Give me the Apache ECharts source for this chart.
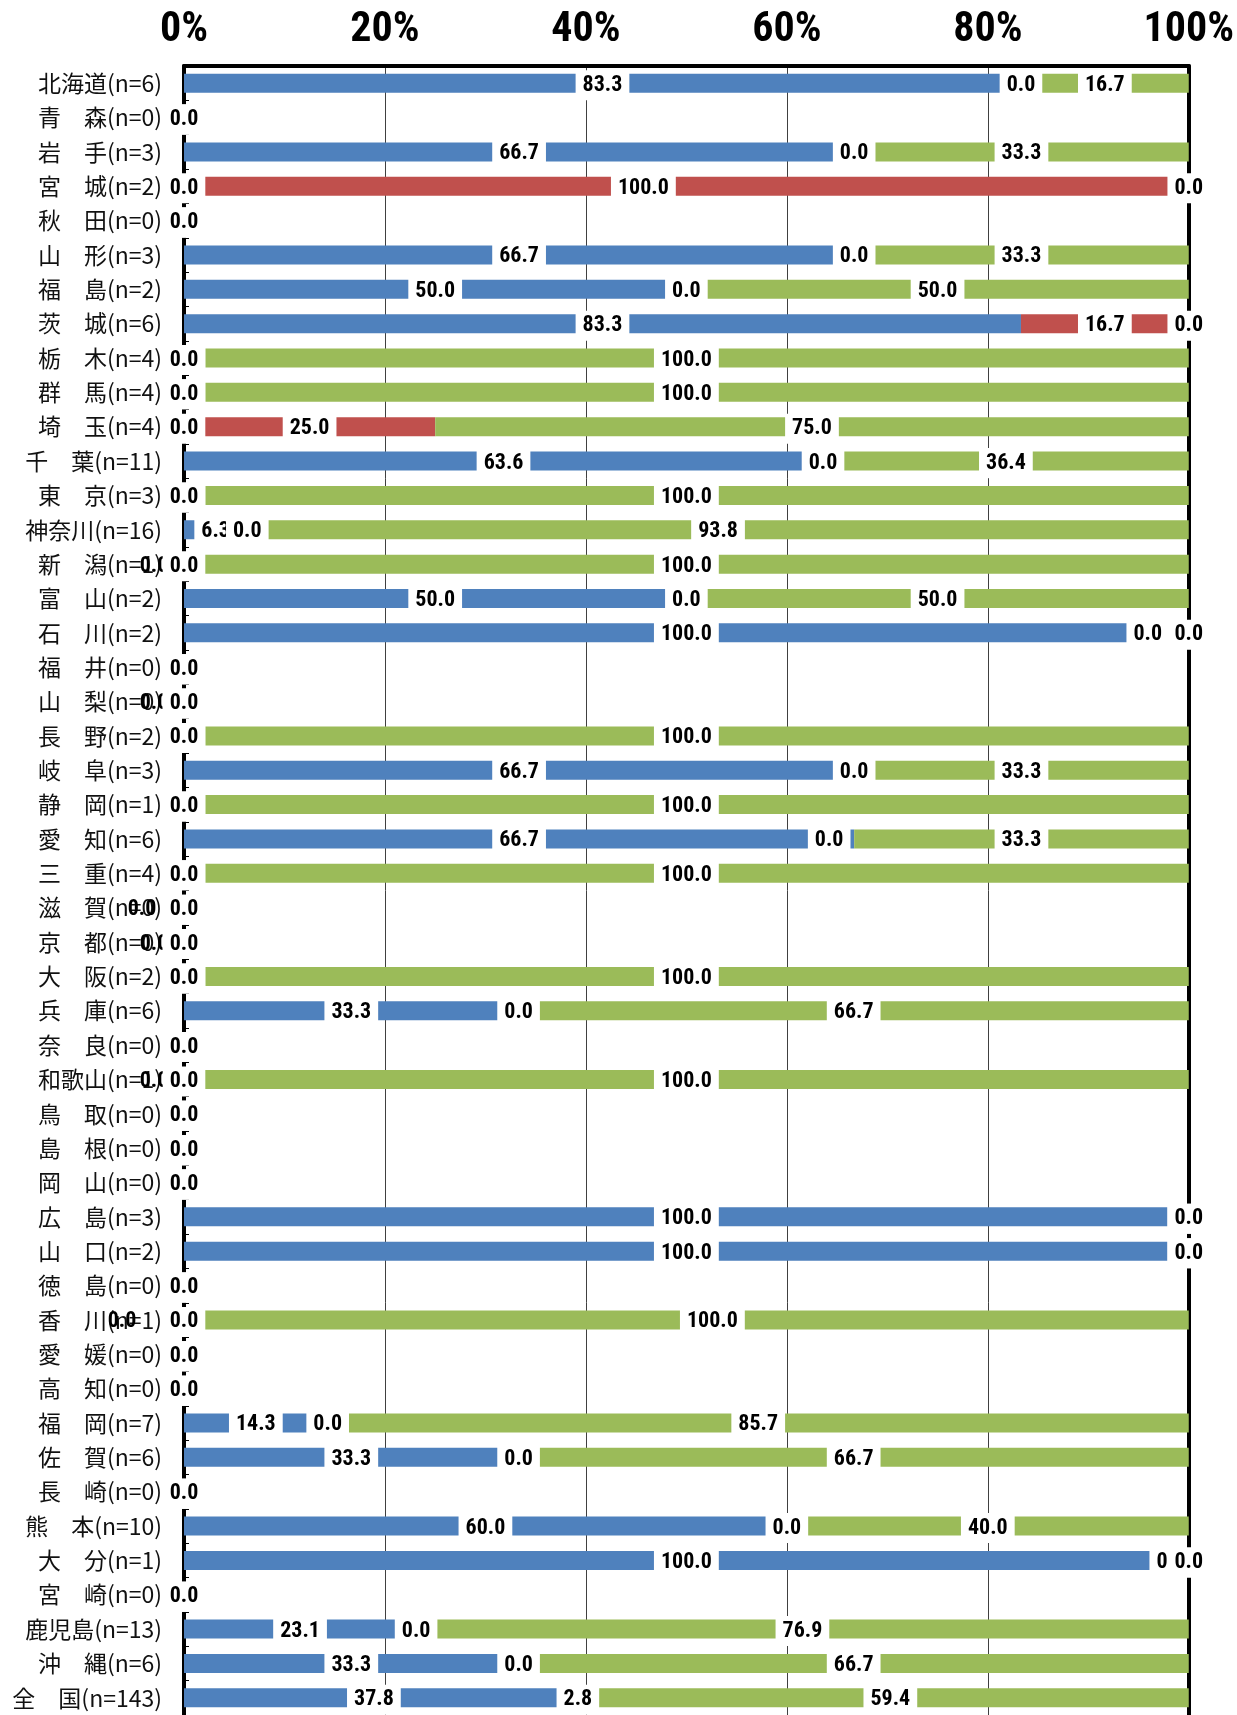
<!DOCTYPE html>
<html>
<head>
<meta charset="utf-8">
<script src="https://cdn.jsdelivr.net/npm/echarts@6/dist/echarts.min.js"></script>
<style>
html,body{margin:0;padding:0;background:#fff;}
#chart{width:1237px;height:1715px;}
</style>
</head>
<body>
<div id="chart"></div>
<script>
// ---- data ----
const categories = [
  '北海道(n=6)','青　森(n=0)','岩　手(n=3)','宮　城(n=2)','秋　田(n=0)','山　形(n=3)',
  '福　島(n=2)','茨　城(n=6)','栃　木(n=4)','群　馬(n=4)','埼　玉(n=4)','千　葉(n=11)',
  '東　京(n=3)','神奈川(n=16)','新　潟(n=1)','富　山(n=2)','石　川(n=2)','福　井(n=0)',
  '山　梨(n=0)','長　野(n=2)','岐　阜(n=3)','静　岡(n=1)','愛　知(n=6)','三　重(n=4)',
  '滋　賀(n=0)','京　都(n=0)','大　阪(n=2)','兵　庫(n=6)','奈　良(n=0)','和歌山(n=1)',
  '鳥　取(n=0)','島　根(n=0)','岡　山(n=0)','広　島(n=3)','山　口(n=2)','徳　島(n=0)',
  '香　川(n=1)','愛　媛(n=0)','高　知(n=0)','福　岡(n=7)','佐　賀(n=6)','長　崎(n=0)',
  '熊　本(n=10)','大　分(n=1)','宮　崎(n=0)','鹿児島(n=13)','沖　縄(n=6)','全　国(n=143)'
];
const seriesBlue = [
  83.3,0,66.7,0,0,66.7, 50.0,83.3,0,0,0,63.6, 0,6.3,0,50.0,100.0,0,
  0,0,66.7,0,66.7,0, 0,0,0,33.3,0,0, 0,0,0,100.0,100.0,0,
  0,0,0,14.3,33.3,0, 60.0,100.0,0,23.1,33.3,37.8
];
const seriesRed = [
  0,0,0,100.0,0,0, 0,16.7,0,0,25.0,0, 0,0,0,0,0,0,
  0,0,0,0,0,0, 0,0,0,0,0,0, 0,0,0,0,0,0,
  0,0,0,0,0,0, 0,0,0,0,0,2.8
];
const seriesGreen = [
  16.7,0,33.3,0,0,33.3, 50.0,0,100.0,100.0,75.0,36.4, 100.0,93.8,100.0,50.0,0,0,
  0,100.0,33.3,100.0,33.3,100.0, 0,0,100.0,66.7,0,100.0, 0,0,0,0,0,0,
  100.0,0,0,85.7,66.7,0, 40.0,0,0,76.9,66.7,59.4
];
const xTicks = [0,20,40,60,80,100];

// ---- label placement tweaks (as in the reference) ----
const baseDy = 2;
const tweaks = {
  '0|14': {dx:-30, bg:false},
  '0|29': {dx:-30, bg:false},
  '0|24': {dx:-42, bg:false},
  '0|25': {dx:-30, bg:false},
  '0|18': {dx:-30, bg:false},
  '0|36': {dx:-62, bg:false},
  '2|36': {dx:26, bg:true},
  '1|3':  {dx:-43, bg:true},
  '1|16': {dx:-41, bg:true},
  '1|43': {dx:-18, bg:true},
  '1|22': {dx:-25, bg:true}
};

const colors = ['#4F81BD','#C0504D','#9BBB59'];
const labelFont = "'Liberation Sans Narrow','Arial Narrow','Roboto Condensed','Liberation Sans',sans-serif";

function build(values, si){
  return values.map((v,i)=>{
    const t = tweaks[si+'|'+i];
    if(!t) return v;
    const lab = {offset:[t.dx, baseDy]};
    if(!t.bg){ lab.backgroundColor='transparent'; }
    return {value:v, label:lab};
  });
}

const chart = echarts.init(document.getElementById('chart'), null, {renderer:'canvas'});
const mk = (vals, si) => ({
  type:'bar',
  stack:'total',
  barWidth:19,
  data: build(vals, si),
  itemStyle:{color:colors[si]},
  label:{
    show:true,
    position:'inside',
    offset:[0, baseDy],
    formatter:p=>Number(p.value).toFixed(1),
    color:'#000',
    fontSize:22,
    fontWeight:'bold',
    fontFamily:labelFont,
    backgroundColor:'#fff',
    padding:[5,7],
    lineHeight:20
  },
  emphasis:{disabled:true}
});

chart.setOption({
  animation:false,
  backgroundColor:'#fff',
  grid:{left:184, top:66, width:1005, height:1651, containLabel:false},
  xAxis:{
    type:'value', position:'top', min:0, max:100, interval:20,
    axisLine:{show:true, lineStyle:{color:'#000', width:4}},
    axisTick:{show:false},
    axisLabel:{
      formatter:v=> xTicks.indexOf(v)>=0 ? v+'%' : '',
      fontSize:42, fontWeight:'bold', color:'#000', fontFamily:labelFont, margin:15
    },
    splitLine:{show:true, lineStyle:{color:'#404040', width:1}}
  },
  yAxis:[{
    type:'category', data:categories, inverse:true,
    axisLine:{show:true, lineStyle:{color:'#000', width:4}},
    axisTick:{show:true, inside:true, length:5, lineStyle:{color:'#000', width:1}},
    axisLabel:{fontSize:23, color:'#111', margin:22, fontFamily:"'Noto Sans CJK JP','Noto Sans',sans-serif"}
  },{
    type:'category', data:categories, inverse:true, position:'right',
    axisLine:{show:true, lineStyle:{color:'#000', width:4}},
    axisTick:{show:false}, axisLabel:{show:false}
  }],
  series:[mk(seriesBlue,0), mk(seriesRed,1), mk(seriesGreen,2)]
});
</script>
</body>
</html>
